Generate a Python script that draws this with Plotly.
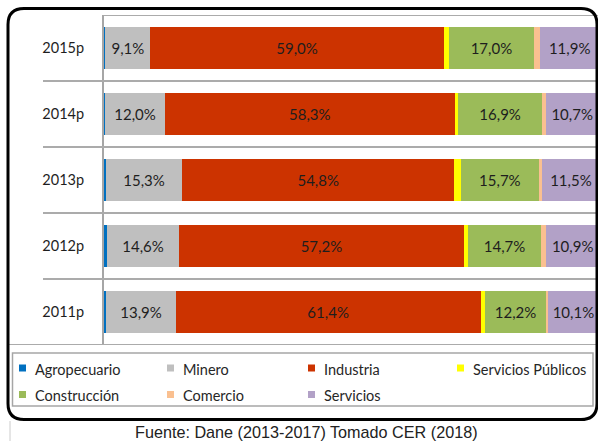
import plotly.graph_objects as go

# ---------------- data ----------------
years = ["2011p", "2012p", "2013p", "2014p", "2015p"]
series_names = ["Agropecuario", "Minero", "Industria", "Servicios Públicos",
                 "Construcción", "Comercio", "Servicios"]
agropecuario = [0.5, 0.55, 0.4, 0.25, 0.25]
minero = [13.9, 14.6, 15.3, 12.0, 9.1]
industria = [61.4, 57.2, 54.8, 58.3, 59.0]
servicios_publicos = [0.9, 0.9, 1.3, 0.7, 1.1]
construccion = [12.2, 14.7, 15.7, 16.9, 17.0]
comercio = [0.5, 0.9, 0.7, 0.7, 1.3]
servicios = [10.1, 10.9, 11.5, 10.7, 11.9]
labelled = [False, True, True, False, True, False, True]
colors = ["#0070C0", "#BFBFBF", "#CC3300", "#FFFF00", "#9BBB59", "#FAC090", "#B2A1C7"]
caption = "Fuente: Dane (2013-2017) Tomado CER (2018)"

values = [agropecuario, minero, industria, servicios_publicos,
          construccion, comercio, servicios]

W, H = 598, 443
ML, MR, MT, MB = 104, 0, 15, 98
PW, PH = W - ML - MR, H - MT - MB


def px(x):
    return (x - ML) / PW


def py(y):
    return (H - MB - y) / PH


def fmt(v):
    return f"{v:.1f}".replace(".", ",") + "%"


fig = go.Figure()
for name, vals, col, lab in zip(series_names, values, colors, labelled):
    fig.add_trace(go.Bar(
        y=years, x=vals, orientation="h", name=name,
        marker=dict(color=col, line=dict(width=0)),
        text=[fmt(v) for v in vals] if lab else None,
        textposition="inside" if lab else "none",
        insidetextanchor="middle", textangle=0,
        textfont=dict(family="Lato", size=15, color="#1e1e1e"),
        showlegend=False,
    ))

shapes = []
# category separators
for b in [0.5, 1.5, 2.5, 3.5]:
    shapes.append(dict(type="line", xref="paper", yref="y", x0=px(43), x1=1,
                       y0=b, y1=b, line=dict(color="#ababab", width=2)))
shapes.append(dict(type="line", xref="paper", yref="y", x0=0, x1=1,
                   y0=4.5, y1=4.5, line=dict(color="#ababab", width=2)))
shapes.append(dict(type="line", xref="paper", yref="y", x0=px(9), x1=1,
                   y0=-0.5, y1=-0.5, line=dict(color="#ababab", width=2)))

# legend box
shapes.append(dict(type="rect", xref="paper", yref="paper",
                   x0=px(12.5), x1=px(593), y0=py(353), y1=py(406),
                   line=dict(color="#a6a6a6", width=1.5)))

# outer rounded frame
L, T, R, B, r = 8, 8.5, 597, 419.5, 16
pts = (f"M {px(L)},{py(T + r)} Q {px(L)},{py(T)} {px(L + r)},{py(T)} "
       f"L {px(R - r)},{py(T)} Q {px(R)},{py(T)} {px(R)},{py(T + r)} "
       f"L {px(R)},{py(B - r)} Q {px(R)},{py(B)} {px(R - r)},{py(B)} "
       f"L {px(L + r)},{py(B)} Q {px(L)},{py(B)} {px(L)},{py(B - r)} Z")
shapes.append(dict(type="path", xref="paper", yref="paper", path=pts,
                   line=dict(color="black", width=3)))
shapes.append(dict(type="line", xref="paper", yref="paper", x0=px(10), x1=px(10),
                   y0=py(421), y1=py(441), line=dict(color="#cccccc", width=1)))

annotations = []
# manual legend
col_x = [19, 167, 308, 457]
row_y = [369, 395.5]
sw = 7
for i, (name, col) in enumerate(zip(series_names, colors)):
    cx = col_x[i % 4]
    cy = row_y[i // 4]
    shapes.append(dict(type="rect", xref="paper", yref="paper",
                       x0=px(cx), x1=px(cx + sw), y0=py(cy - sw / 2 - 1), y1=py(cy + sw / 2 - 1),
                       fillcolor=col, line=dict(width=0)))
    annotations.append(dict(xref="paper", yref="paper", x=px(cx + 14), y=py(cy),
                            text=name, showarrow=False, xanchor="left", yanchor="middle",
                            font=dict(family="Lato", size=14.5, color="#262626")))

annotations.append(dict(xref="paper", yref="paper", x=px(306), y=py(432),
                        text=caption, showarrow=False, xanchor="center", yanchor="middle",
                        font=dict(family="Liberation Sans", size=16.2, color="#222222")))

fig.update_layout(
    width=W, height=H,
    margin=dict(l=ML, r=MR, t=MT, b=MB, pad=0),
    barmode="stack", bargap=0.35,
    paper_bgcolor="white", plot_bgcolor="white",
    xaxis=dict(range=[0, 99.4], visible=False, showgrid=False, zeroline=False),
    yaxis=dict(type="category", categoryorder="array", categoryarray=years,
               range=[-0.5, 4.5], showgrid=False, zeroline=False,
               showline=True, linecolor="#a6a6a6", linewidth=2,
               ticks="", ticklabelstandoff=15,
               tickfont=dict(family="Lato", size=14.5, color="#1e1e1e")),
    shapes=shapes, annotations=annotations,
    showlegend=False,
)

fig.write_html("out.html", config={"displayModeBar": False},
               post_script="document.body.style.margin='0';document.body.style.overflow='hidden';")
